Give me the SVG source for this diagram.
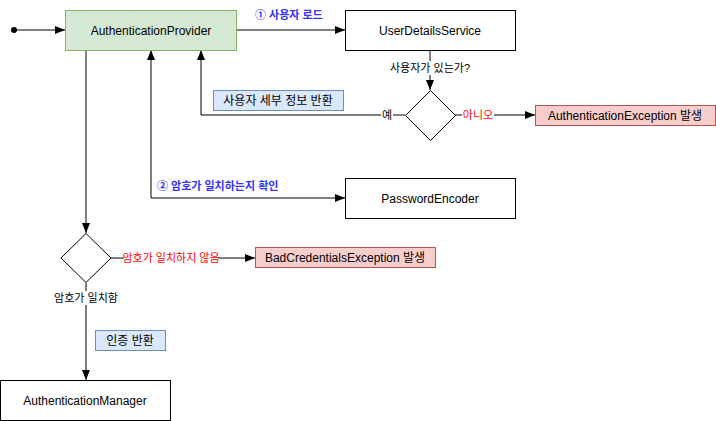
<svg xmlns="http://www.w3.org/2000/svg" width="716" height="421" viewBox="0 0 716 421">
<defs>
<marker id="arr" viewBox="0 0 10 10" refX="10" refY="5" markerWidth="10" markerHeight="10" markerUnits="userSpaceOnUse" orient="auto-start-reverse">
<path d="M0,1 L10,5 L0,9 Z" fill="#000"/>
</marker>
<style>
text{font-family:"Liberation Sans","Noto Sans CJK KR",Arial,sans-serif;font-size:12px;fill:#000;}
.k{font-size:11px;}
.blue{fill:#3333ff;font-weight:bold;font-size:11px;}
.red{fill:#ff0000;font-size:11px;}
.box{fill:#fff;stroke:#000;stroke-width:1;}
.green{fill:#d5e8d4;stroke:#82b366;}
.pink{fill:#f8cecc;stroke:#b85450;}
.note{fill:#dae8fc;stroke:#6c8ebf;}
.ln{fill:none;stroke:#000;stroke-width:1;}
.bg{fill:#fff;}
</style>
</defs>
<g id="connectors">
<circle cx="14" cy="30" r="3" fill="#000"/>
<path class="ln" d="M14,30 L65,30" marker-end="url(#arr)"/>
<path class="ln" d="M236,30 L345,30" marker-end="url(#arr)"/>
<path class="ln" d="M430,50 L430,90" marker-end="url(#arr)"/>
<rect class="bg" x="391" y="61" width="78" height="14"/>
<text class="k" x="430" y="72" text-anchor="middle">사용자가 있는가?</text>
<path class="ln" d="M405,115 L201,115 L201,50" marker-end="url(#arr)"/>
<rect class="bg" x="381" y="108" width="12" height="14"/>
<text class="k" x="387" y="119" text-anchor="middle">예</text>
<path class="ln" d="M455,115 L535,115" marker-end="url(#arr)"/>
<rect class="bg" x="462" y="108" width="32" height="14"/>
<text class="red" x="478" y="119" text-anchor="middle">아니오</text>
<path class="ln" d="M151,50 L151,198 L345,198" marker-start="url(#arr)" marker-end="url(#arr)"/>
<path class="ln" d="M86,50 L86,233" marker-end="url(#arr)"/>
<path class="ln" d="M111,258 L255,258" marker-end="url(#arr)"/>
<rect class="bg" x="124" y="251" width="94" height="14"/>
<text class="red" x="171" y="262" text-anchor="middle">암호가 일치하지 않음</text>
<path class="ln" d="M86,283 L86,380" marker-end="url(#arr)"/>
<rect class="bg" x="56" y="291" width="60" height="14"/>
<text class="k" x="86" y="302" text-anchor="middle">암호가 일치함</text>
<text class="blue" x="255" y="19">① 사용자 로드</text>
<text class="blue" x="157" y="190">② 암호가 일치하는지 확인</text>
</g>
<g id="auth-provider">
<rect class="green" x="65.5" y="10.5" width="171" height="40"/>
<text x="151" y="34.5" text-anchor="middle">AuthenticationProvider</text>
</g>
<g id="user-details-service">
<rect class="box" x="345.5" y="10.5" width="170" height="40"/>
<text x="430" y="34.5" text-anchor="middle">UserDetailsService</text>
</g>
<g id="user-exists">
<path class="box" d="M430.5,90.5 L455.5,115.5 L430.5,140.5 L405.5,115.5 Z"/>
</g>
<g id="auth-exception">
<rect class="pink" x="535.5" y="105.5" width="180" height="20"/>
<text x="625" y="120" text-anchor="middle">AuthenticationException 발생</text>
</g>
<g id="user-details-return">
<rect class="note" x="213.5" y="90.5" width="130" height="20"/>
<text x="278" y="105" text-anchor="middle">사용자 세부 정보 반환</text>
</g>
<g id="password-encoder">
<rect class="box" x="345.5" y="178.5" width="170" height="40"/>
<text x="430" y="202.5" text-anchor="middle">PasswordEncoder</text>
</g>
<g id="password-match">
<path class="box" d="M86,233.5 L111,258 L86,282.5 L61,258 Z"/>
</g>
<g id="bad-credentials">
<rect class="pink" x="255.5" y="247.5" width="180" height="20"/>
<text x="345" y="262" text-anchor="middle">BadCredentialsException 발생</text>
</g>
<g id="auth-return">
<rect class="note" x="95.5" y="330.5" width="70" height="20"/>
<text x="130" y="345" text-anchor="middle">인증 반환</text>
</g>
<g id="auth-manager">
<rect class="box" x="0.5" y="380.5" width="170" height="40"/>
<text x="85" y="404.5" text-anchor="middle">AuthenticationManager</text>
</g>
</svg>
